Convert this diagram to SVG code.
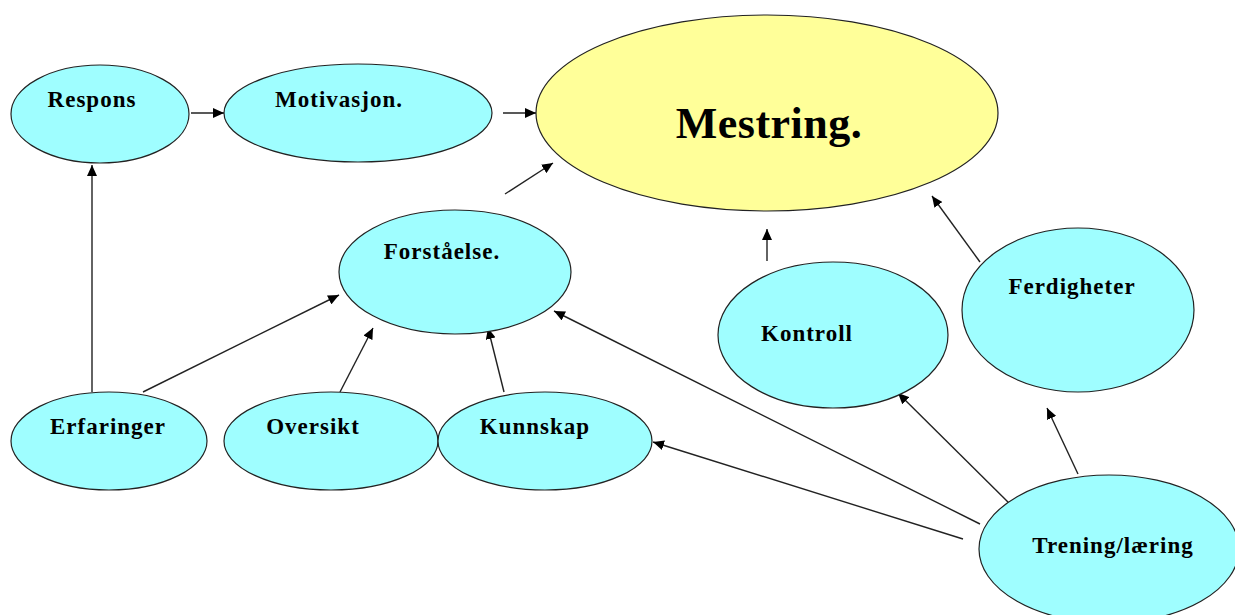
<svg xmlns="http://www.w3.org/2000/svg" width="1235" height="615" viewBox="0 0 1235 615">
  <defs>
    <style>
      .node { fill: #9ffeff; stroke: #222; stroke-width: 1.2; }
      .main { fill: #ffff99; stroke: #222; stroke-width: 1.2; }
      .lbl { font-family: "Liberation Serif", "Times New Roman", serif; font-weight: bold; font-size: 23px; letter-spacing: 1px; text-anchor: middle; fill: #000; }
      .big { font-size: 44px; letter-spacing: 0.5px; }
      .edge { stroke: #222; stroke-width: 1.4; fill: none; marker-end: url(#arrow); }
    </style>
    <marker id="arrow" markerUnits="userSpaceOnUse" markerWidth="12" markerHeight="10" refX="11" refY="5" orient="auto">
      <path d="M0,0 L11,5 L0,10 Z" fill="#000"/>
    </marker>
  </defs>
  <rect width="1235" height="615" fill="#fff"/>

  <g id="connectors">
    <line class="edge" x1="191" y1="113" x2="224" y2="113"/>
    <line class="edge" x1="503" y1="113" x2="536" y2="113"/>
    <line class="edge" x1="505" y1="194" x2="553" y2="163"/>
    <line class="edge" x1="92" y1="392" x2="92" y2="165"/>
    <line class="edge" x1="143" y1="392" x2="339" y2="295"/>
    <line class="edge" x1="340" y1="392" x2="373" y2="328"/>
    <line class="edge" x1="504" y1="392" x2="488" y2="328"/>
    <line class="edge" x1="980" y1="524" x2="554" y2="311"/>
    <line class="edge" x1="963" y1="539" x2="653" y2="442"/>
    <line class="edge" x1="1013" y1="507" x2="898" y2="393"/>
    <line class="edge" x1="1078" y1="474" x2="1047" y2="408"/>
    <line class="edge" x1="767" y1="261" x2="767" y2="229"/>
    <line class="edge" x1="980" y1="262" x2="932" y2="196"/>
  </g>

  <g id="respons">
    <ellipse class="node" cx="100" cy="114" rx="89" ry="49"/>
    <text class="lbl" x="92" y="107">Respons</text>
  </g>
  <g id="motivasjon">
    <ellipse class="node" cx="358" cy="113" rx="134" ry="49"/>
    <text class="lbl" x="339" y="107">Motivasjon.</text>
  </g>
  <g id="mestring">
    <ellipse class="main" cx="767" cy="113" rx="231" ry="98"/>
    <text class="lbl big" x="769" y="138">Mestring.</text>
  </g>
  <g id="forstaelse">
    <ellipse class="node" cx="455" cy="272" rx="116" ry="62"/>
    <text class="lbl" x="442" y="259">Forståelse.</text>
  </g>
  <g id="kontroll">
    <ellipse class="node" cx="833" cy="335" rx="115" ry="73"/>
    <text class="lbl" x="807" y="341">Kontroll</text>
  </g>
  <g id="ferdigheter">
    <ellipse class="node" cx="1078" cy="310" rx="116" ry="82"/>
    <text class="lbl" x="1072" y="294">Ferdigheter</text>
  </g>
  <g id="erfaringer">
    <ellipse class="node" cx="109" cy="441" rx="98" ry="49"/>
    <text class="lbl" x="108" y="434">Erfaringer</text>
  </g>
  <g id="oversikt">
    <ellipse class="node" cx="331" cy="441" rx="107" ry="49"/>
    <text class="lbl" x="313" y="434">Oversikt</text>
  </g>
  <g id="kunnskap">
    <ellipse class="node" cx="545" cy="441" rx="107" ry="49"/>
    <text class="lbl" x="535" y="434">Kunnskap</text>
  </g>
  <g id="trening">
    <ellipse class="node" cx="1109" cy="549" rx="130" ry="74"/>
    <text class="lbl" x="1113" y="553">Trening/læring</text>
  </g>
</svg>
